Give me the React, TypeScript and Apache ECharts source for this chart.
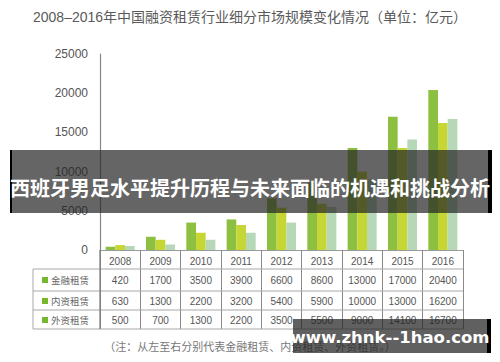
import React, { useEffect, useRef } from "react";
import * as echarts from "echarts";

const years = ["2008", "2009", "2010", "2011", "2012", "2013", "2014", "2015", "2016"];
const seriesNames = ["金融租赁", "内资租赁", "外资租赁"];
const finLease = [420, 1700, 3500, 3900, 6600, 8600, 13000, 17000, 20400];
const domLease = [630, 1300, 2200, 3200, 5400, 5900, 10000, 13000, 16200];
const forLease = [500, 700, 1300, 2200, 3500, 5500, 9000, 14100, 16700];
const yTicks = { min: 0, max: 25000, interval: 5000 };
const titleText = "2008–2016年中国融资租赁行业细分市场规模变化情况（单位：亿元）";
const bannerText = "西班牙男足水平提升历程与未来面临的机遇和挑战分析";
const watermarkText = "www.zhnk--1hao.com";
const noteText = "（注：从左至右分别代表金融租赁、内资租赁、外资租赁。）";

const colors = ["#8dc041", "#c6d735", "#b7d8b6"];
const FONT = '"Liberation Sans", Arial, "Noto Sans CJK SC", sans-serif';

export default function App() {
  const ref = useRef<HTMLDivElement>(null);
  useEffect(() => {
    if (!ref.current) return;
    const chart = echarts.init(ref.current, undefined, { renderer: "svg" });
    const allSeries = [finLease, domLease, forLease];
    const rowCenters = [280, 301, 320];
    const rowLines = [269, 291, 310, 329];
    const tableData: number[][] = [];
    allSeries.forEach((arr, r) => arr.forEach((v, c) => tableData.push([c, r, v])));

    const graphics: any[] = [];
    rowLines.forEach((y) =>
      graphics.push({
        type: "line",
        shape: { x1: 33, y1: y, x2: 463, y2: y },
        style: { stroke: "#a8a8a8", lineWidth: 1 },
        z: 5,
      })
    );
    graphics.push({
      type: "line",
      shape: { x1: 33, y1: 269, x2: 33, y2: 329 },
      style: { stroke: "#a8a8a8", lineWidth: 1 },
      z: 5,
    });
    graphics.push({
      type: "line",
      shape: { x1: 100, y1: 250, x2: 100, y2: 329 },
      style: { stroke: "#777", lineWidth: 1.2 },
      z: 5,
    });
    seriesNames.forEach((name, i) => {
      graphics.push({
        type: "rect",
        shape: { x: 42, y: rowCenters[i] - 3, width: 6, height: 6 },
        style: { fill: "#76b82a" },
        z: 5,
      });
      graphics.push({
        type: "text",
        x: 51,
        y: rowCenters[i],
        style: {
          text: name,
          fill: "#666",
          fontSize: 9.5,
          fontFamily: FONT,
          align: "left",
          verticalAlign: "middle",
        },
        z: 5,
      });
    });
    graphics.push({
      type: "text",
      x: 33,
      y: 17,
      style: {
        text: titleText,
        fill: "#5a5a5a",
        fontSize: 14,
        fontFamily: FONT,
        align: "left",
        verticalAlign: "middle",
      },
    });
    graphics.push({
      type: "text",
      x: 250,
      y: 347,
      style: {
        text: noteText,
        fill: "#777",
        fontSize: 11,
        fontFamily: FONT,
        align: "center",
        verticalAlign: "middle",
      },
    });
    // banner overlay
    graphics.push({
      type: "rect",
      shape: { x: 10, y: 150, width: 481, height: 63 },
      style: { fill: "rgba(35,35,35,0.70)" },
      z: 100,
    });
    graphics.push({
      type: "rect",
      shape: { x: 10, y: 150, width: 2, height: 63 },
      style: { fill: "#000" },
      z: 101,
    });
    graphics.push({
      type: "rect",
      shape: { x: 488, y: 150, width: 4, height: 63 },
      style: { fill: "#000" },
      z: 101,
    });
    graphics.push({
      type: "text",
      x: 250,
      y: 187,
      style: {
        text: bannerText,
        fill: "#fff",
        fontSize: 20,
        fontWeight: "bold",
        fontFamily: '"Noto Sans CJK SC", sans-serif',
        align: "center",
        verticalAlign: "middle",
      },
      z: 102,
    });
    // watermark
    graphics.push({
      type: "rect",
      shape: { x: 293, y: 319, width: 194, height: 34 },
      style: { fill: "rgba(35,35,35,0.72)" },
      z: 100,
    });
    graphics.push({
      type: "rect",
      shape: { x: 487, y: 319, width: 4, height: 34 },
      style: { fill: "#000" },
      z: 101,
    });
    graphics.push({
      type: "text",
      x: 390,
      y: 337,
      style: {
        text: watermarkText,
        fill: "#fff",
        fontSize: 16.5,
        fontWeight: "bold",
        fontFamily: '"DejaVu Sans", Verdana, sans-serif',
        align: "center",
        verticalAlign: "middle",
      },
      z: 102,
    });

    chart.setOption({
      animation: false,
      backgroundColor: "#fff",
      textStyle: { fontFamily: FONT },
      grid: { left: 100, right: 37, top: 54, height: 196 },
      xAxis: {
        type: "category",
        data: years,
        axisLine: { show: true, lineStyle: { color: "#999", width: 1 } },
        axisTick: {
          show: true,
          alignWithLabel: false,
          length: 79,
          lineStyle: { color: "#8a8a8a" },
        },
        axisLabel: { color: "#555", fontSize: 10, margin: 6 },
      },
      yAxis: {
        type: "value",
        min: yTicks.min,
        max: yTicks.max,
        interval: yTicks.interval,
        axisLine: { show: true, lineStyle: { color: "#888", width: 1.2 } },
        axisTick: { show: false },
        splitLine: { show: false },
        axisLabel: {
          color: "#555",
          fontSize: 12,
          margin: 12,
          formatter: (v: number) => String(v),
        },
      },
      series: [
        ...allSeries.map((arr, i) => ({
          type: "bar",
          name: seriesNames[i],
          data: arr,
          barGap: "0%",
          barCategoryGap: "28%",
          itemStyle: { color: colors[i] },
        })),
        {
          type: "custom",
          clip: false,
          data: tableData,
          encode: { x: 0, y: 1 },
          renderItem: (params: any, api: any) => {
            const x = api.coord([api.value(0), 0])[0];
            const y = rowCenters[api.value(1)];
            return {
              type: "text",
              x,
              y,
              style: {
                text: String(api.value(2)),
                fill: "#555",
                fontSize: 10,
                fontFamily: FONT,
                align: "center",
                verticalAlign: "middle",
              },
            };
          },
          z: 6,
        },
      ],
      graphic: graphics,
    });
    return () => chart.dispose();
  }, []);
  return (
    <div
      ref={ref}
      style={{ position: "fixed", left: 0, top: 0, width: 500, height: 362 }}
    />
  );
}
